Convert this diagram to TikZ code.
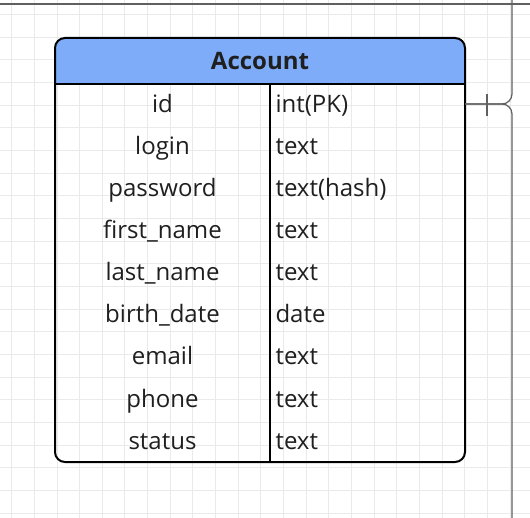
\documentclass[tikz,border=0pt]{standalone}
\usepackage{fontspec}
\setmainfont{Open Sans}
\definecolor{headerblue}{RGB}{126,172,248}
\definecolor{gridgray}{RGB}{234,234,234}
\definecolor{linkgray}{RGB}{96,96,96}
\tikzset{
  fieldname/.style={font=\fontsize{24}{26}\selectfont, text=black!88, anchor=base},
  fieldtype/.style={font=\fontsize{24}{26}\selectfont, text=black!88, anchor=base west},
}
\begin{document}
\begin{tikzpicture}[x=1pt,y=-1pt]
\useasboundingbox (0,0) rectangle (530,518);
\fill[white] (0,0) rectangle (530,518);

% background grid
\foreach \i in {0,...,23} {
  \draw[gridgray, line width=0.8] (11.6+22.65*\i,0) -- (11.6+22.65*\i,518);
  \draw[gridgray, line width=0.8] (0,14.6+22.65*\i) -- (530,14.6+22.65*\i);
}

% table body
\fill[headerblue] (55,84) [rounded corners=10] -- (55,38) -- (465,38) [sharp corners] -- (465,84) -- cycle;
\draw[line width=1.4] (55,84) -- (465,84);
\draw[line width=1.4] (270,84) -- (270,462);
\draw[line width=2, rounded corners=10] (55,38) rectangle (465,462);

\node[font=\bfseries\fontsize{24}{26}\selectfont, text=black!88, anchor=base] (hdr) at (260,70) {Account};

\node[fieldname] (idname) at (162.5,113) {id};
\node[fieldname] (loginname) at (162.5,155) {login};
\node[fieldname] (passname) at (162.5,197) {password};
\node[fieldname] (fnname) at (162.5,239) {first\_name};
\node[fieldname] (lnname) at (162.5,281) {last\_name};
\node[fieldname] (bdname) at (162.5,323) {birth\_date};
\node[fieldname] (mailname) at (162.5,365) {email};
\node[fieldname] (phonename) at (162.5,407) {phone};
\node[fieldname] (statname) at (162.5,449) {status};

\node[fieldtype] (idtype) at (272,113) {int(PK)};
\node[fieldtype] (logintype) at (272,155) {text};
\node[fieldtype] (passtype) at (272,197) {text(hash)};
\node[fieldtype] (fntype) at (272,239) {text};
\node[fieldtype] (lntype) at (272,281) {text};
\node[fieldtype] (bdtype) at (272,323) {date};
\node[fieldtype] (mailtype) at (272,365) {text};
\node[fieldtype] (phonetype) at (272,407) {text};
\node[fieldtype] (stattype) at (272,449) {text};

% links to the id row
\coordinate (idend) at (465,104);
\coordinate (upend) at (512,0);
\coordinate (downend) at (512,518);
\coordinate (leftend) at (0,4);
\coordinate (rightend) at (530,4);
\draw[linkgray, line width=1.2] (leftend) -- (rightend);
\draw[linkgray, line width=1.2, rounded corners=10] (idend) -- (512,104) -- (upend);
\draw[linkgray, line width=1.2, rounded corners=10] (idend) -- (512,104) -- (downend);
\draw[linkgray, line width=1.2] (487,94) -- (487,116);
\end{tikzpicture}
\end{document}
